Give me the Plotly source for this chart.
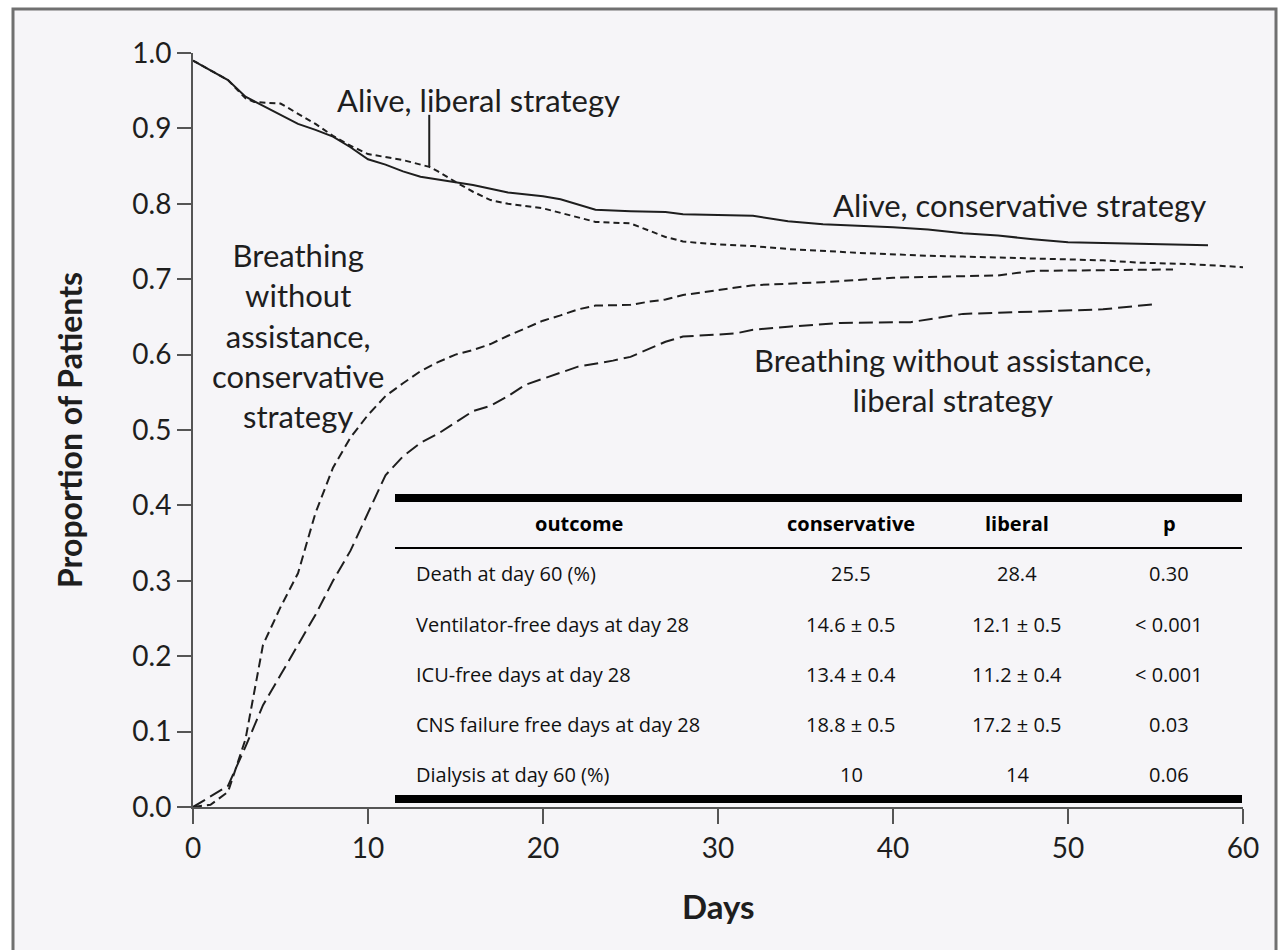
import plotly.graph_objects as go

# ---- survival / unassisted-breathing curves (day, proportion) ----
alive_cons_days = [0, 1, 2, 3, 4, 5, 6, 7, 8, 9, 10, 11, 12, 13, 15, 16, 18, 20, 21, 23, 25, 27, 28,
                   32, 34, 36, 40, 42, 44, 46, 48, 50, 54, 58]
alive_cons_vals = [0.99, 0.977, 0.964, 0.942, 0.93, 0.918, 0.906, 0.898, 0.889, 0.875, 0.859, 0.852,
                   0.843, 0.836, 0.829, 0.825, 0.815, 0.81, 0.806, 0.792, 0.79, 0.789, 0.786,
                   0.784, 0.777, 0.773, 0.769, 0.766, 0.761, 0.758, 0.753, 0.749, 0.747, 0.745]

alive_lib_days = [0, 1, 2, 3, 3.5, 5, 6, 7, 8, 9, 10, 12, 13.5, 14, 15, 16, 17, 18, 20, 21, 23, 25,
                  26, 27, 28, 30, 32, 34, 38, 42, 44, 48, 52, 54, 57, 60]
alive_lib_vals = [0.99, 0.977, 0.964, 0.94, 0.935, 0.933, 0.92, 0.906, 0.89, 0.877, 0.866, 0.858,
                  0.849, 0.843, 0.829, 0.816, 0.805, 0.8, 0.794, 0.788, 0.776, 0.774, 0.765, 0.756,
                  0.75, 0.746, 0.744, 0.74, 0.735, 0.731, 0.73, 0.728, 0.725, 0.722, 0.72, 0.716]

breath_cons_days = [0, 1, 2, 3, 4, 5, 6, 7, 8, 9, 10, 11, 12, 13, 14, 15, 16, 17, 18, 20, 21, 22,
                    23, 25, 26, 27, 28, 30, 32, 36, 40, 44, 46, 48, 52, 56]
breath_cons_vals = [0.0, 0.003, 0.02, 0.09, 0.215, 0.265, 0.31, 0.39, 0.45, 0.49, 0.52, 0.545, 0.562,
                    0.578, 0.59, 0.6, 0.606, 0.614, 0.625, 0.645, 0.652, 0.66, 0.665, 0.666, 0.67,
                    0.673, 0.679, 0.686, 0.692, 0.696, 0.702, 0.704, 0.705, 0.711, 0.712, 0.713]

breath_lib_days = [0, 1, 2, 3, 4, 5, 6, 7, 8, 9, 10, 11, 12, 13, 14, 15, 16, 17, 18, 19, 20, 22,
                   24, 25, 27, 28, 31, 32, 34, 37, 41, 44, 48, 52, 55]
breath_lib_vals = [0.0, 0.014, 0.028, 0.08, 0.135, 0.175, 0.215, 0.255, 0.3, 0.34, 0.39, 0.44, 0.465,
                   0.483, 0.495, 0.51, 0.525, 0.532, 0.545, 0.56, 0.568, 0.584, 0.592, 0.597, 0.617,
                   0.624, 0.628, 0.633, 0.637, 0.642, 0.643, 0.654, 0.657, 0.66, 0.667]

# ---- outcome table ----
table_header = ["outcome", "conservative", "liberal", "p"]
outcomes = ["Death at day 60 (%)", "Ventilator-free days at day 28", "ICU-free days at day 28",
            "CNS failure free days at day 28", "Dialysis at day 60 (%)"]
conservative = ["25.5", "14.6 ± 0.5", "13.4 ± 0.4", "18.8 ± 0.5", "10"]
liberal = ["28.4", "12.1 ± 0.5", "11.2 ± 0.4", "17.2 ± 0.5", "14"]
p_values = ["0.30", "< 0.001", "< 0.001", "0.03", "0.06"]

x_ticks = [0, 10, 20, 30, 40, 50, 60]
y_ticks = [0.0, 0.1, 0.2, 0.3, 0.4, 0.5, 0.6, 0.7, 0.8, 0.9, 1.0]

W, H = 1278, 950
ML, MR, MT, MB = 193, 35, 53, 143
PW, PH = W - ML - MR, H - MT - MB

INK = "#1e1e1e"
AXIS = "#555555"
BG = "#f6f5f8"
CURVE_FONT = "Lato"
TABLE_FONT = "Open Sans"


def px(x):
    return (x - ML) / PW


def py(y):
    return (H - MB - y) / PH


fig = go.Figure()

curves = [
    (alive_cons_days, alive_cons_vals, "solid"),
    (alive_lib_days, alive_lib_vals, "6px,4px"),
    (breath_cons_days, breath_cons_vals, "9px,5px"),
    (breath_lib_days, breath_lib_vals, "14px,6px"),
]
for xs, ys, dash in curves:
    fig.add_trace(go.Scatter(x=xs, y=ys, mode="lines",
                             line=dict(color=INK, width=2, dash=dash),
                             hoverinfo="skip", showlegend=False))

shapes = []
annotations = []

# outer frame and panel background
shapes.append(dict(type="rect", xref="paper", yref="paper", layer="below",
                   x0=px(13), x1=px(1276), y0=py(960), y1=py(9),
                   fillcolor=BG, line=dict(color="#707070", width=3)))

# curve labels
label_font = dict(family=CURVE_FONT, size=31, color=INK)
annotations += [
    dict(x=16.3, y=0.938, text="Alive, liberal strategy", showarrow=False, font=label_font,
         xanchor="center", yanchor="middle"),
    dict(x=47.2, y=0.798, text="Alive, conservative strategy", showarrow=False, font=label_font,
         xanchor="center", yanchor="middle"),
    dict(x=6.0, y=0.626, text="Breathing<br>without<br>assistance,<br>conservative<br>strategy",
         showarrow=False, font=label_font, align="center", xanchor="center", yanchor="middle"),
    dict(x=43.4, y=0.566, text="Breathing without assistance,<br>liberal strategy",
         showarrow=False, font=label_font, align="center", xanchor="center", yanchor="middle"),
]
# leader line from the liberal-alive label to its curve
shapes.append(dict(type="line", xref="x", yref="y", x0=13.5, x1=13.5, y0=0.849, y1=0.918,
                   line=dict(color=INK, width=2)))

# axis titles
annotations += [
    dict(xref="paper", yref="paper", x=px(69), y=py(430), text="<b>Proportion of Patients</b>",
         textangle=-90, showarrow=False, xanchor="center", yanchor="middle",
         font=dict(family=CURVE_FONT, size=32, color=INK)),
    dict(xref="paper", yref="paper", x=0.5, y=py(906), text="<b>Days</b>",
         showarrow=False, xanchor="center", yanchor="middle",
         font=dict(family=CURVE_FONT, size=33, color=INK)),
]

# table rules
tx0, tx1 = px(395), px(1242)
for yc, lw in [(498, 8), (548, 2), (799, 8)]:
    shapes.append(dict(type="line", xref="paper", yref="paper", x0=tx0, x1=tx1,
                       y0=py(yc), y1=py(yc), line=dict(color="#000000", width=lw)))

col_centers = [px(579), px(851), px(1017), px(1169)]
header_y = py(523)
for xc, h in zip(col_centers, table_header):
    annotations.append(dict(xref="paper", yref="paper", x=xc, y=header_y, text=f"<b>{h}</b>",
                            xanchor="center", yanchor="middle", showarrow=False,
                            font=dict(family=TABLE_FONT, size=20, color="#000")))

row_ys = [573, 624, 674, 724, 774]
tfont = dict(family=TABLE_FONT, size=20, color="#111")
for i, ry in enumerate(row_ys):
    annotations.append(dict(xref="paper", yref="paper", x=px(414), y=py(ry), text=outcomes[i],
                            xanchor="left", yanchor="middle", showarrow=False, font=tfont))
    for xc, col in zip(col_centers[1:], [conservative, liberal, p_values]):
        annotations.append(dict(xref="paper", yref="paper", x=xc, y=py(ry), text=col[i],
                                xanchor="center", yanchor="middle", showarrow=False, font=tfont))

axis_common = dict(showgrid=False, zeroline=False, showline=True, linecolor=AXIS, linewidth=2,
                   ticks="outside", tickcolor=AXIS, tickwidth=2,
                   tickfont=dict(family=CURVE_FONT, size=28, color=INK))

fig.update_layout(
    width=W, height=H,
    margin=dict(l=ML, r=MR, t=MT, b=MB, pad=0),
    paper_bgcolor="white",
    plot_bgcolor="rgba(0,0,0,0)",
    xaxis=dict(range=[0, 60], tickvals=x_ticks, ticklen=15, **axis_common),
    yaxis=dict(range=[0, 1], tickvals=y_ticks, tickformat=".1f", ticklen=14, **axis_common),
    shapes=shapes,
    annotations=annotations,
)

fig.write_html("out.html")
